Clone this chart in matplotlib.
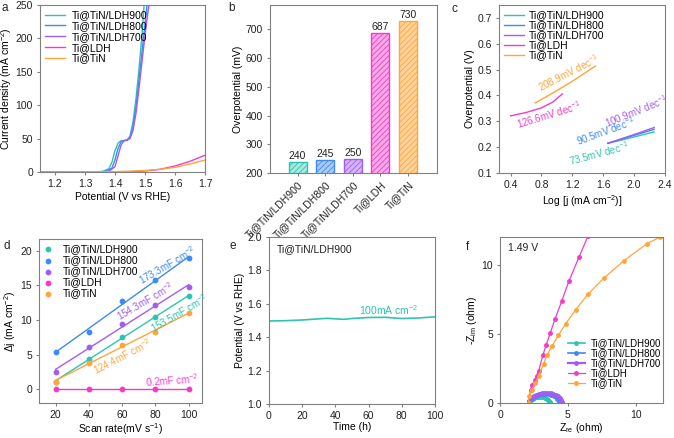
import numpy as np
import matplotlib
matplotlib.use("Agg")
import matplotlib.pyplot as plt

plt.rcParams['font.family'] = ['Liberation Sans', 'DejaVu Sans']
plt.rcParams['mathtext.fontset'] = 'custom'
plt.rcParams['mathtext.rm'] = 'Liberation Sans'
plt.rcParams['mathtext.it'] = 'Liberation Sans:italic'
plt.rcParams['mathtext.default'] = 'regular'
plt.rcParams['font.size'] = 7.5
plt.rcParams['axes.edgecolor'] = '#808080'
plt.rcParams['xtick.color'] = '#808080'
plt.rcParams['ytick.color'] = '#808080'
plt.rcParams['xtick.labelcolor'] = '#222222'
plt.rcParams['ytick.labelcolor'] = '#222222'
plt.rcParams['xtick.major.size'] = 2.5
plt.rcParams['ytick.major.size'] = 2.5
plt.rcParams['xtick.major.pad'] = 2.5
plt.rcParams['ytick.major.pad'] = 2.5
plt.rcParams['hatch.linewidth'] = 0.6

names = ['Ti@TiN/LDH900', 'Ti@TiN/LDH800', 'Ti@TiN/LDH700', 'Ti@LDH', 'Ti@TiN']
colors = ['#2EC4B0', '#3D8AF0', '#A35CF0', '#F03CC8', '#FFA53A']
light = ['#A6EAE0', '#A9CBF8', '#D5B5F8', '#F9A9E6', '#FFD39E']

# ---- a: LSV ----
a_x900 = [1.15, 1.33, 1.36, 1.38, 1.39, 1.40, 1.41, 1.42, 1.43, 1.44, 1.45, 1.46, 1.47, 1.48, 1.49, 1.497]
a_y900 = [0, 0, 1, 5, 15, 32, 43, 47, 47, 48, 54, 75, 110, 155, 205, 250]
a_x800 = [1.15, 1.34, 1.37, 1.39, 1.40, 1.41, 1.42, 1.43, 1.44, 1.45, 1.46, 1.47, 1.48, 1.49, 1.50, 1.51]
a_y800 = [0, 0, 1, 6, 18, 35, 45, 47, 47, 51, 68, 98, 138, 180, 222, 262]
a_x700 = [1.15, 1.35, 1.38, 1.40, 1.41, 1.42, 1.43, 1.44, 1.45, 1.46, 1.47, 1.48, 1.49, 1.50, 1.51, 1.52]
a_y700 = [0, 0, 1, 8, 24, 40, 47, 48, 50, 62, 88, 125, 165, 205, 240, 270]
a_xLDH = [1.15, 1.40, 1.45, 1.50, 1.55, 1.60, 1.65, 1.70]
a_yLDH = [0, 0, 0.5, 1.5, 4, 9, 16, 25]
a_xTiN = [1.15, 1.35, 1.40, 1.45, 1.50, 1.55, 1.60, 1.65, 1.70]
a_yTiN = [0, 0.3, 0.6, 1.2, 2.2, 4, 7, 12, 18]

# ---- b: overpotential ----
b_vals = [240, 245, 250, 687, 730]

# ---- c: Tafel ----
c_x900 = [1.66, 1.86, 2.06, 2.26]
c_y900 = [0.215, 0.229, 0.244, 0.259]
c_x800 = [1.66, 1.86, 2.06, 2.26]
c_y800 = [0.215, 0.233, 0.251, 0.269]
c_x700 = [1.66, 1.86, 2.06, 2.26]
c_y700 = [0.215, 0.235, 0.255, 0.276]
c_xLDH = [0.40, 0.60, 0.80, 0.95, 1.07]
c_yLDH = [0.321, 0.334, 0.352, 0.375, 0.406]
c_xTiN = [0.72, 0.95, 1.20, 1.50]
c_yTiN = [0.371, 0.410, 0.455, 0.514]
c_labels = ['73.5mV dec$^{-1}$', '90.5mV dec$^{-1}$', '100.9mV dec$^{-1}$',
            '126.6mV dec$^{-1}$', '208.9mV dec$^{-1}$']

# ---- d: Cdl ----
d_rate = [20, 40, 60, 80, 100]
d_900 = [1.1, 4.3, 7.6, 10.5, 13.4]
d_800 = [5.4, 8.3, 12.8, 15.8, 18.9]
d_700 = [2.5, 6.1, 9.4, 12.1, 14.8]
d_LDH = [0, 0, 0, 0, 0]
d_TiN = [1.1, 3.8, 6.4, 8.3, 11.0]
d_labels = ['153.5mF cm$^{-2}$', '173.3mF cm$^{-2}$', '154.3mF cm$^{-2}$',
            '0.2mF cm$^{-2}$', '124.4mF cm$^{-2}$']

# ---- e: stability ----
e_t = [0, 10, 20, 30, 35, 40, 45, 50, 60, 70, 80, 90, 100]
e_v = [1.497, 1.499, 1.503, 1.510, 1.513, 1.510, 1.507, 1.512, 1.518, 1.519, 1.512, 1.515, 1.522]

# ---- f: EIS ----
f_x900 = [2.10, 2.15, 2.22, 2.30, 2.40, 2.50, 2.62, 2.75, 2.90, 3.05, 3.20, 3.33, 3.45, 3.55, 3.63, 3.68, 3.70]
f_y900 = [0, 0.10, 0.18, 0.25, 0.32, 0.37, 0.41, 0.44, 0.45, 0.44, 0.41, 0.36, 0.29, 0.21, 0.13, 0.06, 0.0]
f_x800 = [2.10, 2.16, 2.25, 2.36, 2.50, 2.65, 2.82, 3.00, 3.20, 3.40, 3.60, 3.78, 3.95, 4.10, 4.22, 4.32, 4.38, 4.40]
f_y800 = [0, 0.14, 0.26, 0.37, 0.46, 0.53, 0.59, 0.63, 0.65, 0.65, 0.62, 0.57, 0.50, 0.40, 0.30, 0.19, 0.09, 0.0]
f_x700 = [2.10, 2.16, 2.26, 2.38, 2.52, 2.68, 2.86, 3.06, 3.28, 3.50, 3.72, 3.92, 4.10, 4.26, 4.40, 4.50, 4.57, 4.60]
f_y700 = [0, 0.16, 0.30, 0.42, 0.52, 0.60, 0.67, 0.72, 0.75, 0.75, 0.72, 0.66, 0.58, 0.47, 0.35, 0.22, 0.10, 0.0]
f_xLDH = [2.10, 2.25, 2.37, 2.56, 2.70, 2.85, 3.16, 3.40, 3.70, 4.06, 4.54, 5.07, 5.82, 6.47]
f_yLDH = [0, 0.96, 1.33, 1.64, 1.98, 2.34, 3.47, 4.19, 5.06, 6.10, 7.35, 8.80, 10.55, 12.05]
f_xTiN = [2.10, 2.13, 2.37, 2.60, 2.85, 3.21, 3.48, 3.82, 4.30, 4.83, 5.58, 6.47, 7.66, 9.10, 10.82, 11.80]
f_yTiN = [0, 0.48, 0.96, 1.45, 1.93, 2.84, 3.49, 4.10, 4.89, 5.73, 6.75, 7.86, 9.04, 10.27, 11.52, 12.00]

W, H = 674, 438
fig = plt.figure(figsize=(W / 100, H / 100), dpi=100)

def ax_px(l, r, t, b):
    return fig.add_axes([l / W, 1 - b / H, (r - l) / W, (b - t) / H])

def panel_label(x, y, s):
    fig.text(x / W, 1 - y / H, s, fontsize=8.5, ha='left', va='top', color='#222222')

# a
ax = ax_px(40, 205, 5, 172)
for xs, ys, c, n in zip([a_x900, a_x800, a_x700, a_xLDH, a_xTiN],
                        [a_y900, a_y800, a_y700, a_yLDH, a_yTiN], colors, names):
    ax.plot(xs, ys, color=c, lw=1, label=n)
ax.set_xlim(1.15, 1.7)
ax.set_ylim(0, 250)
ax.set_xticks([1.2, 1.3, 1.4, 1.5, 1.6, 1.7])
ax.set_yticks([0, 50, 100, 150, 200, 250])
ax.set_xlabel('Potential (V vs RHE)', labelpad=2)
ax.set_ylabel('Current density (mA cm$^{-2}$)', labelpad=1)
ax.legend(loc='upper left', frameon=False, handlelength=1.9, handletextpad=0.7,
          labelspacing=0.08, borderaxespad=0.1, fontsize=7.5)
panel_label(2, 2, 'a')

# b
ax = ax_px(270, 437, 5, 173)
xb = np.arange(len(b_vals))
ax.bar(xb, b_vals, width=0.65, color=light, edgecolor=colors, hatch='//////', lw=1)
for xi, v in zip(xb, b_vals):
    ax.text(xi, v + 3, str(v), ha='center', va='bottom', fontsize=7.5, color='#222222')
ax.set_ylim(200, 785)
ax.set_xlim(-1, 5.05)
ax.set_yticks([200, 300, 400, 500, 600, 700])
ax.set_xticks(xb)
ax.set_xticklabels(names, rotation=45, ha='right', rotation_mode='anchor')
ax.set_ylabel('Overpotential (mV)', labelpad=2)
panel_label(228, 2, 'b')

# c
ax = ax_px(499, 665, 5, 173)
for xs, ys, c, n in zip([c_x900, c_x800, c_x700, c_xLDH, c_xTiN],
                        [c_y900, c_y800, c_y700, c_yLDH, c_yTiN], colors, names):
    ax.plot(xs, ys, color=c, lw=1, label=n)
c_pos = [(1.54, 0.175, 15), (1.63, 0.262, 20), (2.03, 0.34, 22), (0.90, 0.327, 17), (1.15, 0.488, 27)]
for (x, y, r), lab, c in zip(c_pos, c_labels, colors):
    ax.text(x, y, lab, color=c, rotation=r, ha='center', va='center', fontsize=7)
ax.set_xlim(0.25, 2.4)
ax.set_ylim(0.1, 0.75)
ax.set_xticks([0.4, 0.8, 1.2, 1.6, 2.0, 2.4])
ax.set_yticks([0.1, 0.2, 0.3, 0.4, 0.5, 0.6, 0.7])
ax.set_xlabel('Log [j (mA cm$^{-2}$)]', labelpad=2)
ax.set_ylabel('Overpotential (V)', labelpad=2)
ax.legend(loc='upper left', frameon=False, handlelength=1.9, handletextpad=0.5,
          labelspacing=0.0, borderaxespad=0.1, fontsize=7.5)
panel_label(452, 3, 'c')

# d
ax = ax_px(39, 202, 239, 403)
for ys, c, n in zip([d_900, d_800, d_700, d_LDH, d_TiN], colors, names):
    ax.scatter(d_rate, ys, color=c, s=10, zorder=3, label=n)
    k, b0 = np.polyfit(d_rate, ys, 1)
    ax.plot([d_rate[0], d_rate[-1]], [k * d_rate[0] + b0, k * d_rate[-1] + b0], color=c, lw=1)
d_pos = [(94, 11.0, 30), (87, 18.0, 30), (74, 12.7, 30), (90, 1.35, 4), (60, 4.7, 27)]
for (x, y, r), lab, c in zip(d_pos, d_labels, colors):
    ax.text(x, y, lab, color=c, rotation=r, ha='center', va='center', fontsize=7)
ax.set_xlim(10, 108)
ax.set_ylim(-2, 21.7)
ax.set_xticks([20, 40, 60, 80, 100])
ax.set_yticks([0, 5, 10, 15, 20])
ax.set_xlabel('Scan rate(mV s$^{-1}$)', labelpad=1)
ax.set_ylabel('Δj (mA cm$^{-2}$)', labelpad=2)
ax.legend(loc='upper left', frameon=False, handlelength=0.8, handletextpad=1.0,
          labelspacing=0.1, borderaxespad=0.1, fontsize=7.5, scatterpoints=1)
panel_label(4, 240, 'd')

# e
ax = ax_px(269, 435, 237, 404)
ax.plot(e_t, e_v, color=colors[0], lw=1.2)
ax.text(72, 1.565, '100mA cm$^{-2}$', color=colors[0], ha='center', va='center', fontsize=7.5)
ax.text(5, 1.93, 'Ti@TiN/LDH900', ha='left', va='center', fontsize=7.5, color='#222222')
ax.set_xlim(0, 100)
ax.set_ylim(1.0, 2.0)
ax.set_xticks([0, 20, 40, 60, 80, 100])
ax.set_yticks([1.0, 1.2, 1.4, 1.6, 1.8, 2.0])
ax.set_xlabel('Time (h)', labelpad=1)
ax.set_ylabel('Potential (V vs RHE)', labelpad=2)
panel_label(229, 240, 'e')

# f
ax = ax_px(500, 663, 237, 403)
for xs, ys, c, n, lw in zip([f_x900, f_x800, f_x700, f_xLDH, f_xTiN],
                            [f_y900, f_y800, f_y700, f_yLDH, f_yTiN], colors, names,
                            [1.2, 1.2, 1.6, 0.9, 0.9]):
    ax.plot(xs, ys, color=c, lw=lw, marker='o', ms=2.5, label=n)
ax.text(0.6, 11.2, '1.49 V', ha='left', va='center', fontsize=7.5, color='#222222')
ax.set_xlim(0, 12)
ax.set_ylim(0, 12)
ax.set_xticks([0, 5, 10])
ax.set_yticks([0, 5, 10])
ax.set_xlabel('Z$_{re}$ (ohm)', labelpad=1)
ax.set_ylabel('-Z$_{im}$ (ohm)', labelpad=2)
ax.legend(loc='lower right', bbox_to_anchor=(1.04, 0.035), frameon=False, handlelength=1.7,
          handletextpad=0.6, labelspacing=0.0, fontsize=7)
panel_label(466, 241, 'f')

fig.savefig('out.png', dpi=100)
